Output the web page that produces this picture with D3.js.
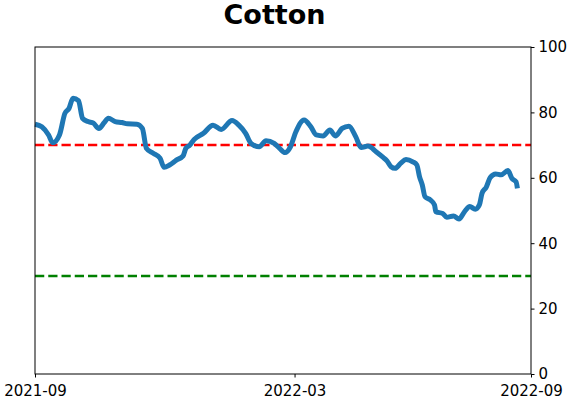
<!DOCTYPE html>
<html>
<head>
<meta charset="utf-8">
<script src="https://cdn.jsdelivr.net/npm/d3@7"></script>
<style>
  body { margin: 0; background: #fff; }
  text { font-family: "DejaVu Sans", sans-serif; }
</style>
</head>
<body>
<div class="chart"></div>
<script>
// series
const dates = [
  "2021-09-01","2021-09-06","2021-09-11","2021-09-14","2021-09-19","2021-09-23","2021-09-26","2021-09-29",
  "2021-10-03","2021-10-06","2021-10-10","2021-10-14","2021-10-18","2021-10-22","2021-10-25","2021-10-30",
  "2021-11-04","2021-11-08","2021-11-15","2021-11-19","2021-11-22","2021-11-27",
  "2021-12-02","2021-12-05","2021-12-09","2021-12-14","2021-12-19","2021-12-21","2021-12-24","2021-12-27",
  "2022-01-03","2022-01-10","2022-01-16","2022-01-24","2022-01-29",
  "2022-02-03","2022-02-07","2022-02-13","2022-02-18","2022-02-24","2022-02-28",
  "2022-03-04","2022-03-08","2022-03-12","2022-03-18","2022-03-23","2022-03-27",
  "2022-04-01","2022-04-06","2022-04-10","2022-04-15","2022-04-20","2022-04-25","2022-04-29",
  "2022-05-04","2022-05-10","2022-05-15","2022-05-18","2022-05-21","2022-05-24","2022-05-28",
  "2022-06-01","2022-06-06","2022-06-09","2022-06-11","2022-06-13","2022-06-15","2022-06-19","2022-06-22","2022-06-23","2022-06-28",
  "2022-07-01","2022-07-06","2022-07-10","2022-07-14","2022-07-18","2022-07-22","2022-07-25","2022-07-27","2022-07-30",
  "2022-08-02","2022-08-06","2022-08-10","2022-08-15","2022-08-18","2022-08-21","2022-08-22"
];
const values = [
  76.4, 75.6, 73.1, 70.7, 73.1, 79.7, 81.2, 84.3,
  83.6, 78.2, 77.2, 76.7, 75.1, 76.9, 78.2, 77.2,
  76.9, 76.5, 76.4, 75.1, 69.0, 67.5,
  66.0, 63.2, 63.9, 65.4, 66.7, 69.0, 70.0, 71.7,
  73.6, 76.1, 74.8, 77.5, 76.1,
  73.6, 70.5, 69.5, 71.3, 70.5, 69.0,
  67.7, 69.5, 74.1, 77.7, 75.6, 73.1,
  72.8, 74.6, 72.8, 75.1, 75.8, 72.6, 69.3,
  69.7, 68.0, 66.3, 65.2, 63.4, 62.9, 64.4,
  65.6, 64.9, 63.9, 60.3, 57.8, 54.2, 53.2, 51.7, 49.6, 49.1,
  47.9, 48.3, 47.4, 49.6, 51.2, 50.4, 51.7, 55.3, 57.1,
  60.1, 61.2, 60.9, 62.2, 59.8, 58.8, 56.8
];
const xDomain = ["2021-09-01", "2022-09-01"];
const xTicks = ["2021-09-01", "2022-03-11", "2022-09-01"];
const yTicks = [0, 20, 40, 60, 80, 100];
const upperLevel = 70;
const lowerLevel = 30;
const title = "Cotton";

const parseDate = d3.timeParse("%Y-%m-%d"),
  formatX = d3.timeFormat("%Y-%m");

const outerW = 571,
  outerH = 402;
const margin = { left: 35, right: 40, top: 47, bottom: 28 };
const w = outerW - margin.left - margin.right,
  h = outerH - margin.top - margin.bottom;

const data = dates.map((d, i) => ({ date: parseDate(d), value: values[i] }));

const x = d3.scaleTime()
  .domain(xDomain.map(parseDate))
  .range([0, w]);
const y = d3.scaleLinear()
  .domain([0, 100])
  .range([h, 0]);

const svg = d3.select(".chart").append("svg")
  .attr("width", outerW)
  .attr("height", outerH);

svg.append("text")
  .attr("x", 274.5)
  .attr("y", 24)
  .attr("text-anchor", "middle")
  .style("font-size", "27px")
  .style("font-weight", "bold")
  .text(title);

const g = svg.append("g")
  .attr("transform", `translate(${margin.left}, ${margin.top})`);

// reference levels
g.selectAll(".level")
  .data([{ v: upperLevel, c: "#ff0000" }, { v: lowerLevel, c: "#008000" }])
  .enter()
  .append("line")
  .attr("x1", 0)
  .attr("x2", w)
  .attr("y1", d => y(d.v))
  .attr("y2", d => y(d.v))
  .attr("stroke", d => d.c)
  .attr("stroke-width", 2.5)
  .attr("stroke-dasharray", "9.25,4");

const line = d3.line()
  .x(d => x(d.date))
  .y(d => y(d.value))
  .curve(d3.curveMonotoneX);

g.append("path")
  .datum(data)
  .attr("d", line)
  .attr("fill", "none")
  .attr("stroke", "#1f77b4")
  .attr("stroke-width", 5)
  .attr("stroke-linejoin", "round")
  .attr("stroke-linecap", "butt");

// frame
g.append("rect")
  .attr("width", w)
  .attr("height", h)
  .attr("fill", "none")
  .attr("stroke", "#000")
  .attr("stroke-width", 1);

const xAxis = g.append("g")
  .attr("transform", `translate(0, ${h})`)
  .call(d3.axisBottom(x)
    .tickValues(xTicks.map(parseDate))
    .tickFormat(formatX)
    .tickSizeOuter(0)
    .tickSize(3.5)
    .tickPadding(8));

const yAxis = g.append("g")
  .attr("transform", `translate(${w}, 0)`)
  .call(d3.axisRight(y)
    .tickValues(yTicks)
    .tickSizeOuter(0)
    .tickSize(3.5)
    .tickPadding(4));

[xAxis, yAxis].forEach(a => {
  a.select(".domain").remove();
  a.selectAll("text")
    .style("font-size", "15px")
    .style("font-family", "'DejaVu Sans', sans-serif")
    .attr("fill", "#000");
  a.selectAll("line").attr("stroke", "#000");
});
</script>
</body>
</html>
